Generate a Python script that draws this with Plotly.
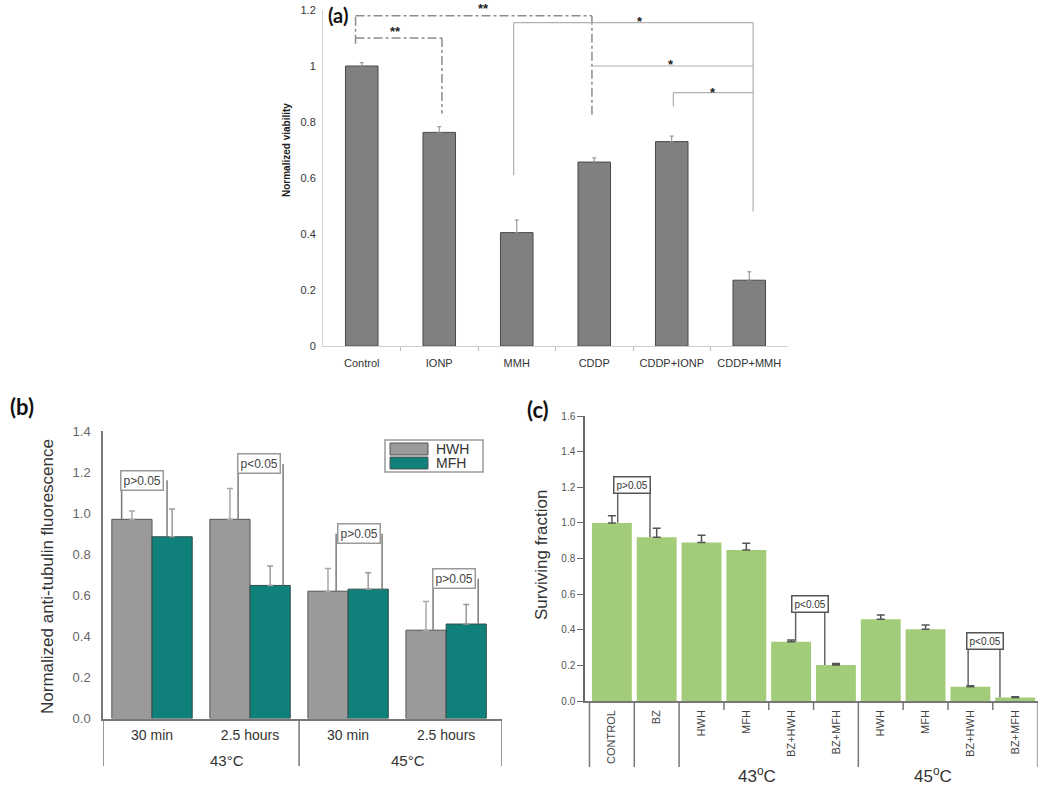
import plotly.graph_objects as go

W, H = 1050, 792
def px(x): return x / W
def py(y): return 1 - y / H

# ---------------- data ----------------
# (a)
a_categories = ["Control", "IONP", "MMH", "CDDP", "CDDP+IONP", "CDDP+MMH"]
a_values = [1.0, 0.763, 0.405, 0.657, 0.73, 0.235]
a_errors = [0.012, 0.02, 0.045, 0.015, 0.02, 0.03]

# (b)
b_times = ["30 min", "2.5 hours", "30 min", "2.5 hours"]
b_temps = ["43°C", "45°C"]
b_series = ["HWH", "MFH"]
b_hwh = [0.97, 0.97, 0.62, 0.43]
b_hwh_err = [0.04, 0.15, 0.11, 0.14]
b_mfh = [0.885, 0.648, 0.63, 0.46]
b_mfh_err = [0.135, 0.095, 0.08, 0.095]
b_pvals = ["p>0.05", "p<0.05", "p>0.05", "p>0.05"]

# (c)
c_categories = ["CONTROL", "BZ", "HWH", "MFH", "BZ+HWH", "BZ+MFH",
                "HWH", "MFH", "BZ+HWH", "BZ+MFH"]
c_values = [1.0, 0.92, 0.89, 0.848, 0.333, 0.202, 0.459, 0.403, 0.08, 0.02]
c_errors = [0.04, 0.05, 0.04, 0.037, 0.01, 0.008, 0.024, 0.024, 0.006, 0.004]
c_temps = ["43<sup>o</sup>C", "45<sup>o</sup>C"]
c_pvals = ["p>0.05", "p<0.05", "p<0.05"]

FONT = "Liberation Sans"
LABEL_FONT = "Lato"
HWH_COLOR = "#9a9a9a"
MFH_COLOR = "#0f807a"

fig = go.Figure()

# ---------------- (a) ----------------
fig.add_trace(go.Bar(
    x=list(range(len(a_categories))), y=a_values, width=0.42,
    marker=dict(color="#808080", line=dict(color="#4a4a4a", width=1)),
    error_y=dict(type="data", array=a_errors, arrayminus=[0]*len(a_errors),
                 symmetric=False, color="#8a8a8a", thickness=1, width=2),
    xaxis="x", yaxis="y", showlegend=False))

# ---------------- (b) ----------------
bx = list(range(len(b_times)))
fig.add_trace(go.Bar(
    x=bx, y=b_hwh, name=b_series[0], offset=-0.41, width=0.41,
    marker=dict(color=HWH_COLOR, line=dict(color="#555555", width=1)),
    error_y=dict(type="data", array=b_hwh_err, arrayminus=[0]*4, symmetric=False,
                 color="#a8a8a8", thickness=1.5, width=3),
    xaxis="x2", yaxis="y2", showlegend=False))
fig.add_trace(go.Bar(
    x=bx, y=b_mfh, name=b_series[1], offset=0, width=0.41,
    marker=dict(color=MFH_COLOR, line=dict(color="#2f4f4c", width=1)),
    error_y=dict(type="data", array=b_mfh_err, arrayminus=[0]*4, symmetric=False,
                 color="#999999", thickness=1.5, width=3),
    xaxis="x2", yaxis="y2", showlegend=False))

# ---------------- (c) ----------------
fig.add_trace(go.Bar(
    x=list(range(len(c_categories))), y=c_values, width=0.89,
    marker=dict(color="#a2cc79", line=dict(width=0)),
    error_y=dict(type="data", array=c_errors, arrayminus=[0]*len(c_errors),
                 symmetric=False, color="#555555", thickness=1.5, width=4),
    xaxis="x3", yaxis="y3", showlegend=False))

shapes = []
annotations = []

def seg(x0, y0, x1, y1, line, xref="x", yref="y"):
    shapes.append(dict(type="line", x0=x0, y0=y0, x1=x1, y1=y1,
                       xref=xref, yref=yref, line=line))

def ptext(x, y, text, size, color="#333", family=FONT, angle=0):
    annotations.append(dict(x=px(x), y=py(y), xref="paper", yref="paper", text=text,
                            xanchor="center", yanchor="middle", textangle=angle,
                            showarrow=False, font=dict(family=family, size=size, color=color)))

# ---- (a) significance brackets ----
dot = dict(color="#8c8c8c", width=1.5, dash="dashdot")
sol = dict(color="#b0b0b0", width=1.2)
seg(-0.08, 1.08, -0.08, 1.18, dot)
seg(-0.08, 1.18, 2.97, 1.18, dot)
seg(2.97, 1.18, 2.97, 0.825, dot)
seg(-0.08, 1.10, 1.035, 1.10, dot)
seg(1.035, 1.10, 1.035, 0.83, dot)
seg(1.96, 0.61, 1.96, 1.155, sol)
seg(1.96, 1.155, 5.05, 1.155, sol)
seg(5.05, 1.155, 5.05, 0.48, sol)
seg(2.97, 1.0, 5.05, 1.0, sol)
seg(4.02, 0.855, 4.02, 0.905, sol)
seg(4.02, 0.905, 5.05, 0.905, sol)

for (sx, sy, st) in [(0.43, 1.125, "**"), (3.59, 1.16, "*"),
                     (3.99, 1.005, "*"), (4.53, 0.905, "*")]:
    annotations.append(dict(x=sx, y=sy, xref="x", yref="y", text="<b>%s</b>" % st,
                            showarrow=False, font=dict(family=FONT, size=13, color="#222")))
ptext(483, 9, "<b>**</b>", 13, "#222")

# ---- (b) p-value brackets ----
b_left = [-0.31, -0.122, -0.122, -0.133]
b_right = [0.153, 0.337, 0.347, 0.327]
b_box_x = [-0.10, 0.087, 0.107, 0.077]
b_box_y = [1.16, 1.24, 0.90, 0.68]
bline = dict(color="#7a7a7a", width=1.5)
for i in range(len(b_times)):
    seg(i + b_left[i], b_box_y[i], i + b_left[i], b_hwh[i], bline, "x2", "y2")
    seg(i + b_right[i], b_box_y[i], i + b_right[i], b_mfh[i], bline, "x2", "y2")
    annotations.append(dict(x=i + b_box_x[i], y=b_box_y[i], xref="x2", yref="y2",
                            text=b_pvals[i], showarrow=False, bgcolor="white",
                            bordercolor="#9a9a9a", borderwidth=1.5, borderpad=2,
                            font=dict(family=FONT, size=12, color="#444")))

# (b) category divider lines and group labels
for xv in [-0.5, 1.5, 3.57]:
    seg(xv, py(719), xv, py(766), dict(color="#777", width=1.5), "x2", "paper")
for lbl, xp in zip(b_temps, [227, 408]):
    ptext(xp, 760, lbl, 15)

# (b) legend box
shapes.append(dict(type="rect", xref="paper", yref="paper", x0=px(385), x1=px(483),
                   y0=py(440), y1=py(472), line=dict(color="#999", width=1.5),
                   fillcolor="white", layer="below"))
for k, (nm, col) in enumerate(zip(b_series, [HWH_COLOR, MFH_COLOR])):
    y0 = 443 + k * 14
    shapes.append(dict(type="rect", xref="paper", yref="paper", x0=px(390), x1=px(428),
                       y0=py(y0), y1=py(y0 + 12), line=dict(color="#555", width=1),
                       fillcolor=col))
    annotations.append(dict(x=px(434), y=py(y0 + 6), xref="paper", yref="paper", text=nm,
                            xanchor="left", yanchor="middle", showarrow=False,
                            font=dict(family=FONT, size=14, color="#333")))

# ---- (c) p-value brackets ----
c_pairs = [(0, 1), (4, 5), (8, 9)]
c_left = [0.13, 4.10, 7.95]
c_right = [0.85, 4.75, 8.66]
c_box_x = [0.45, 4.41, 8.33]
c_box_y = [1.21, 0.547, 0.337]
cline = dict(color="#666", width=1.5)
for k, (i, j) in enumerate(c_pairs):
    seg(c_left[k], c_box_y[k], c_left[k], c_values[i], cline, "x3", "y3")
    seg(c_right[k], c_box_y[k], c_right[k], c_values[j], cline, "x3", "y3")
    annotations.append(dict(x=c_box_x[k], y=c_box_y[k], xref="x3", yref="y3",
                            text=c_pvals[k], showarrow=False, bgcolor="white",
                            bordercolor="#555", borderwidth=1.5, borderpad=2,
                            font=dict(family=FONT, size=10, color="#333")))

# (c) dividers
for xv in [-0.5, 0.5, 1.5, 5.5, 9.5]:
    seg(xv, py(701), xv, py(767), dict(color="#777", width=1.5), "x3", "paper")
for xv in [2.5, 3.5, 4.5, 6.5, 7.5, 8.5]:
    seg(xv, py(701), xv, py(710), dict(color="#777", width=1.5), "x3", "paper")
for lbl, xp in zip(c_temps, [757, 933]):
    ptext(xp, 775, lbl, 17)

# ---- axis titles & panel labels ----
ptext(286, 150, "<b>Normalized viability</b>", 10, "#222", angle=-90)
ptext(47, 577, "Normalized anti-tubulin fluorescence", 17, "#333", angle=-90)
ptext(541, 555, "Surviving fraction", 17, "#333", angle=-90)
ptext(338, 15, "<b>(a)</b>", 20, "#111", LABEL_FONT)
ptext(22, 407, "<b>(b)</b>", 22, "#111", LABEL_FONT)
ptext(538, 409, "<b>(c)</b>", 22, "#111", LABEL_FONT)

fig.update_layout(
    width=W, height=H, margin=dict(l=0, r=0, t=0, b=0, autoexpand=False),
    paper_bgcolor="white", plot_bgcolor="white",
    barmode="overlay", showlegend=False,
    shapes=shapes, annotations=annotations,
    font=dict(family=FONT),
    # (a)
    xaxis=dict(domain=[px(323), px(788)], range=[-0.5, 5.5], anchor="y", automargin=False,
               tickmode="array", tickvals=list(range(6)), ticktext=a_categories,
               ticks="outside", ticklen=7, tickcolor="rgba(0,0,0,0)",
               showline=True, linecolor="#d0d0d0", linewidth=1, showgrid=False,
               zeroline=False, tickfont=dict(family=FONT, size=11, color="#333"),
               minor=dict(tickmode="array", tickvals=[0.5, 1.5, 2.5, 3.5, 4.5],
                          ticks="outside", ticklen=4, tickcolor="#bbbbbb", showgrid=False)),
    yaxis=dict(domain=[py(346), py(10)], range=[0, 1.2001], anchor="x", automargin=False,
               tickmode="array", tickvals=[0, 0.2, 0.4, 0.6, 0.8, 1.0, 1.2],
               ticks="outside", ticklen=4, tickcolor="rgba(0,0,0,0)",
               showline=True, linecolor="#d0d0d0", linewidth=1,
               showgrid=False, zeroline=False,
               tickfont=dict(family=FONT, size=11, color="#333")),
    # (b)
    xaxis2=dict(domain=[px(103), px(502)], range=[-0.5, 3.57], anchor="y2", automargin=False,
                tickmode="array", tickvals=bx, ticktext=b_times,
                ticks="outside", ticklen=3, tickcolor="rgba(0,0,0,0)",
                showline=True, linecolor="#777", linewidth=1.5, showgrid=False,
                zeroline=False, tickfont=dict(family=FONT, size=14, color="#333")),
    yaxis2=dict(domain=[py(718.5), py(431)], range=[0, 1.4001], anchor="x2", automargin=False,
                dtick=0.2, tickformat=".1f", showline=True, linecolor="#777",
                linewidth=1.5, showgrid=False, zeroline=False,
                ticks="outside", ticklen=8, tickcolor="rgba(0,0,0,0)",
                tickfont=dict(family=FONT, size=13, color="#666")),
    # (c)
    xaxis3=dict(domain=[px(585), px(1037.6)], range=[-0.6, 9.5], anchor="y3", automargin=False,
                tickmode="array", tickvals=list(range(10)), ticktext=c_categories,
                tickangle=-90, ticks="outside", ticklen=3, tickcolor="rgba(0,0,0,0)",
                showline=True, linecolor="#777", linewidth=1.5, showgrid=False,
                zeroline=False, tickfont=dict(family=FONT, size=11, color="#444")),
    yaxis3=dict(domain=[py(701), py(416)], range=[0, 1.6001], anchor="x3", automargin=False,
                dtick=0.2, tickformat=".1f", showline=True, linecolor="#666",
                linewidth=1.5, showgrid=False, zeroline=False,
                ticks="outside", ticklen=6, tickcolor="#666",
                tickfont=dict(family=FONT, size=10, color="#555")),
)

fig.write_html("out.html", config={"displayModeBar": False},
               post_script="document.body.style.margin='0px';")
